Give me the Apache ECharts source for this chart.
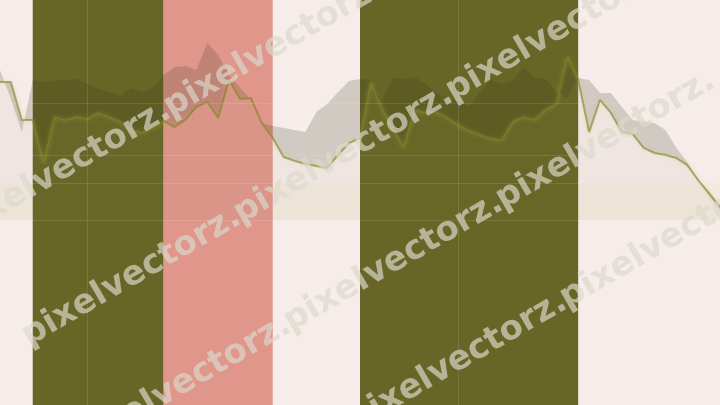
<!DOCTYPE html>
<html>
<head>
<meta charset="utf-8">
<script src="https://cdn.jsdelivr.net/npm/echarts@6/dist/echarts.min.js"></script>
<style>html,body{margin:0;padding:0;background:#f6ece9;}#c{width:720px;height:405px;}</style>
</head>
<body>
<div id="c"></div>
<script>
const categories = ['0','1','2','3','4','5','6','7','8','9','10','11','12','13','14','15','16','17','18','19','20','21','22','23','24','25','26','27','28','29','30','31','32','33','34','35','36','37','38','39','40','41','42','43','44','45','46','47','48','49','50','51','52','53','54','55','56','57','58','59','60','61','62','63','64','65','66'];
const seriesA = [62.7,62.7,45.5,45.5,25.9,46.8,45.5,46.8,45.9,48.7,46.8,44.6,40.9,39.6,41.8,45.0,42.3,45.5,51.4,53.7,46.4,63.7,55.0,55.5,44.1,37.3,28.7,26.9,25.5,24.6,23.7,29.6,35.0,37.3,62.7,50.9,41.8,32.8,50.0,48.7,49.1,46.4,43.2,40.5,38.7,36.8,36.4,44.6,46.8,45.5,50.0,52.7,74.1,63.7,40.0,54.6,48.7,40.0,39.1,32.8,30.5,29.6,28.2,25.0,18.2,12.3,6.0];
const seriesB = [68.2,55.0,40.0,63.7,62.7,63.2,63.7,64.1,61.8,59.6,58.2,56.4,60.0,58.2,60.0,65.9,69.6,70.0,68.2,80.5,75.0,65.9,60.0,54.6,44.1,42.8,41.8,40.9,40.0,49.1,52.7,58.2,63.2,64.1,63.7,54.6,64.6,64.1,65.0,61.8,57.7,55.0,53.7,51.8,58.2,63.7,61.8,63.2,69.6,64.6,64.1,58.2,55.5,64.6,63.7,57.7,57.7,51.4,45.5,44.6,44.1,40.9,32.8,26.4,18.2,11.0,4.6];
const oliveBands = [[3,15],[33,53]];
const salmonBands = [[15,25]];
const floorBand = [16.9, 0];
const hLines = [53.2, 29.6, 16.9, 0];
const vLines = [8, 42];

const bandDiff = seriesB.map((b,i)=> +(b - seriesA[i]).toFixed(1));

const areaData = [];
areaData.push([{yAxis: floorBand[0], itemStyle:{color:'#f3eadf',opacity:1}}, {yAxis: floorBand[1]}]);
oliveBands.forEach(b=>areaData.push([{xAxis: categories[b[0]], itemStyle:{color:'#686626',opacity:1}}, {xAxis: categories[b[1]]}]));
salmonBands.forEach(b=>areaData.push([{xAxis: categories[b[0]], itemStyle:{color:'#e0968b',opacity:1}}, {xAxis: categories[b[1]]}]));

const lineData = hLines.map(v=>({yAxis:v})).concat(vLines.map(v=>({xAxis:categories[v]})));

// watermark rows
const wmRows = [{b0:186,start:-54,n:5},{b0:333,start:16,n:5},{b0:470,start:66,n:3},{b0:606,start:130,n:5}];
const graphics = [];
const tan = Math.tan(Math.PI/6);
wmRows.forEach(r=>{
  for(let k=0;k<r.n;k++){
    const x = r.start + k*212;
    const y = r.b0 - x*tan;
    graphics.push({type:'text', x:x, y:y, rotation:Math.PI/6, z:100, silent:true,
      style:{text:'pixelvectorz.', font:'bold 34px "DejaVu Sans"', fill:'rgba(218,217,204,0.68)',
        textAlign:'left', textVerticalAlign:'alphabetic',
        shadowColor:'rgba(30,30,20,0.6)', shadowBlur:1, shadowOffsetX:1.8, shadowOffsetY:1.8}});
  }
});

const chart = echarts.init(document.getElementById('c'), null, {renderer:'canvas'});
chart.setOption({
  animation:false,
  backgroundColor:'#f6ece9',
  grid:{left:0,right:0,top:0,bottom:0,containLabel:false},
  xAxis:{type:'category',data:categories,boundaryGap:false,show:false},
  yAxis:{type:'value',min:-84,max:100,show:false,splitLine:{show:false}},
  graphic: graphics,
  series:[
    {type:'line', name:'bands', data:seriesA, z:1, silent:true, symbol:'none', lineStyle:{opacity:0},
      markArea:{silent:true, data:areaData},
      markLine:{silent:true, symbol:'none', label:{show:false}, lineStyle:{color:'rgba(255,250,225,0.12)',width:1,type:'solid'}, data:lineData}},
    {type:'line', name:'A', data:seriesA, stack:'g', z:4, symbol:'none', silent:true,
      lineStyle:{color:'#80821f', width:2, opacity:0.6, shadowColor:'rgba(200,195,110,0.55)', shadowBlur:4},
      areaStyle:{color:'rgba(128,128,100,0.08)'}},
    {type:'line', name:'B', data:bandDiff, stack:'g', stackStrategy:'all', z:3, symbol:'none', silent:true,
      lineStyle:{width:0, opacity:0},
      areaStyle:{color:'rgba(45,48,24,0.26)'}}
  ]
});
</script>
</body>
</html>
